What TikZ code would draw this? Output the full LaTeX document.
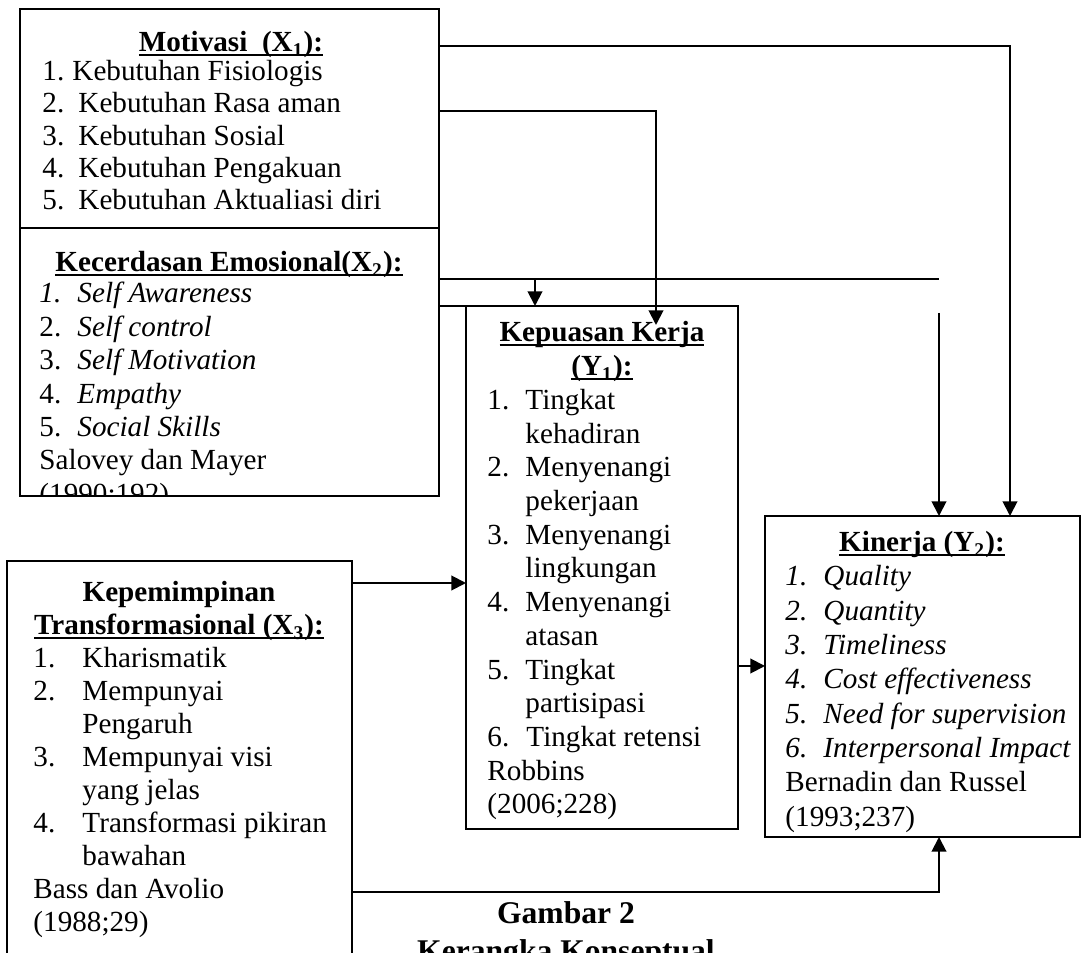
\documentclass[tikz,border=0pt]{standalone}
\usepackage{fontspec}
\setmainfont{Liberation Serif}
\usetikzlibrary{arrows.meta}
\newlength\upx
\setlength\upx{0.4115pt}
\newsavebox\ulbox
\newcommand\ulx[1]{\sbox\ulbox{#1}\rlap{\rule[-1.7pt]{\wd\ulbox}{0.7pt}}\usebox\ulbox}
\tikzset{
  box/.style={draw, line width=0.8pt, rectangle, inner sep=0pt, outer sep=0pt, anchor=north west},
  conn/.style={line width=0.8pt},
  arr/.style={conn, -{Triangle[length=6pt,width=6pt]}},
  head/.style={anchor=base, inner sep=0pt, font=\fontsize{12pt}{14pt}\selectfont\bfseries},
  lst/.style={anchor=base west, inner sep=0pt},
  captxt/.style={anchor=base, inner sep=0pt, font=\fontsize{13pt}{15pt}\selectfont\bfseries}
}
\begin{document}
\begin{tikzpicture}[x=0.4115pt, y=-0.4115pt]
\useasboundingbox (0,0) rectangle (1088,953);
\fill[white] (0,0) rectangle (1088,953);
\clip (0,0) rectangle (1088,953);

% boxes
\node[box, minimum width=419\upx, minimum height=219\upx] (x1) at (20,9) {};
\node[box, minimum width=419\upx, minimum height=268\upx] (x2) at (20,228) {};
\node[box, minimum width=272\upx, minimum height=523\upx] (y1) at (466,306) {};
\node[box, minimum width=315\upx, minimum height=321\upx] (y2) at (765,516) {};
\node[box, minimum width=345\upx, minimum height=440\upx] (x3) at (7,561) {};

% X1 text
\node[head] (x1h) at (231,52) {\ulx{Motivasi\ \ (X\textsubscript{1}):}};
\node[lst] (x1l) at (42,81) {\begin{minipage}[t]{390\upx}\fontsize{12pt}{13.17pt}\selectfont\raggedright
\makebox[30\upx][l]{1.}Kebutuhan Fisiologis\\
\makebox[36\upx][l]{2.}Kebutuhan Rasa aman\\
\makebox[36\upx][l]{3.}Kebutuhan Sosial\\
\makebox[36\upx][l]{4.}Kebutuhan Pengakuan\\
\makebox[36\upx][l]{5.}Kebutuhan Aktualiasi diri
\end{minipage}};

% X2 text
\node[head] (x2h) at (229,272) {\ulx{Kecerdasan Emosional(X\textsubscript{2}):}};
\begin{scope}
\clip (20,228) rectangle (439,496);
\node[lst] (x2l) at (39,303) {\begin{minipage}[t]{390\upx}\fontsize{12pt}{13.74pt}\selectfont\raggedright
\makebox[38\upx][l]{\textit{1.}}\textit{Self Awareness}\\
\makebox[38\upx][l]{2.}\textit{Self control}\\
\makebox[38\upx][l]{3.}\textit{Self Motivation}\\
\makebox[38\upx][l]{4.}\textit{Empathy}\\
\makebox[38\upx][l]{5.}\textit{Social Skills}\\
Salovey dan Mayer\\
(1990;192)
\end{minipage}};
\end{scope}

% Y1 text
\node[head] (y1h) at (602,342) {\ulx{Kepuasan Kerja}};
\node[head] (y1h2) at (602,375.7) {\ulx{(Y\textsubscript{1}):}};
\node[lst] (y1l) at (487,409.4) {\begin{minipage}[t]{245\upx}\fontsize{12pt}{13.87pt}\selectfont\raggedright
\makebox[38\upx][l]{1.}Tingkat\\
\hspace*{38\upx}kehadiran\\
\makebox[38\upx][l]{2.}Menyenangi\\
\hspace*{38\upx}pekerjaan\\
\makebox[38\upx][l]{3.}Menyenangi\\
\hspace*{38\upx}lingkungan\\
\makebox[38\upx][l]{4.}Menyenangi\\
\hspace*{38\upx}atasan\\
\makebox[38\upx][l]{5.}Tingkat\\
\hspace*{38\upx}partisipasi\\
\makebox[39\upx][l]{6.}Tingkat retensi\\
Robbins\\
(2006;228)
\end{minipage}};

% Y2 text
\node[head] (y2h) at (922,552) {\ulx{Kinerja (Y\textsubscript{2}):}};
\node[lst] (y2l) at (785,586) {\begin{minipage}[t]{290\upx}\fontsize{12pt}{14.11pt}\selectfont\raggedright
\makebox[38\upx][l]{\textit{1.}}\textit{Quality}\\
\makebox[38\upx][l]{\textit{2.}}\textit{Quantity}\\
\makebox[38\upx][l]{\textit{3.}}\textit{Timeliness}\\
\makebox[38\upx][l]{\textit{4.}}\textit{Cost effectiveness}\\
\makebox[38\upx][l]{\textit{5.}}\textit{Need for supervision}\\
\makebox[38\upx][l]{\textit{6.}}\textit{Interpersonal Impact}\\
Bernadin dan Russel\\
(1993;237)
\end{minipage}};

% X3 text
\node[head] (x3h) at (179,602) {Kepemimpinan};
\node[head] (x3h2) at (179,635) {\ulx{Transformasional (X\textsubscript{3}):}};
\node[lst] (x3l) at (33,668) {\begin{minipage}[t]{310\upx}\fontsize{12pt}{13.54pt}\selectfont\raggedright
\makebox[49\upx][l]{1.}Kharismatik\\
\makebox[49\upx][l]{2.}Mempunyai\\
\hspace*{49\upx}Pengaruh\\
\makebox[49\upx][l]{3.}Mempunyai visi\\
\hspace*{49\upx}yang jelas\\
\makebox[49\upx][l]{4.}Transformasi pikiran\\
\hspace*{49\upx}bawahan\\
Bass dan Avolio\\
(1988;29)
\end{minipage}};

% caption
\node[captxt] (cap1) at (566,924) {Gambar 2};
\node[captxt] (cap2) at (566,961) {Kerangka Konseptual};

% connector points
\coordinate (r1) at (1010,46);
\coordinate (r2) at (656,111);
\coordinate (t2) at (656,325);
\coordinate (r3) at (939,279);
\coordinate (r3b) at (939,313);
\coordinate (b1) at (535,279);
\coordinate (a1) at (400,583);
\coordinate (a2) at (750,666);
\coordinate (c1) at (939,892);

% connectors
\draw[arr] (x1.east |- r1) -| (y2.north -| r1);
\draw[arr] (x1.east |- r2) -| (t2);
\draw[conn] (x2.east |- r3) -- (r3);
\draw[arr] (r3b) -- (y2.north -| r3b);
\draw[arr] (b1) -- (y1.north -| b1);
\draw[conn] (x2.east |- y1.north) -- (y1.north west);
\draw[arr] (x3.east |- a1) -- (y1.west |- a1);
\draw[arr] (y1.east |- a2) -- (y2.west |- a2);
\draw[arr] (x3.east |- c1) -| (y2.south -| c1);
\end{tikzpicture}
\end{document}
